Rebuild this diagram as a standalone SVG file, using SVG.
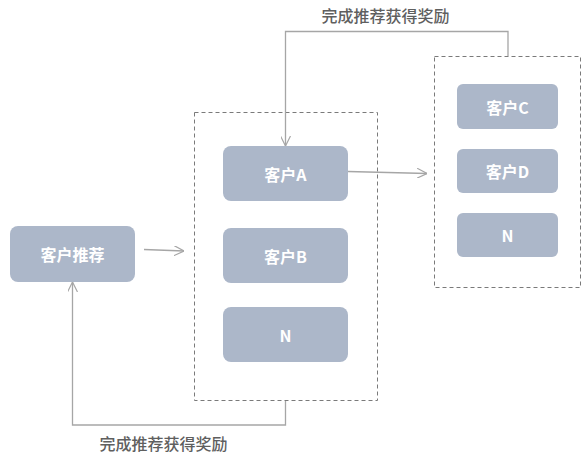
<svg xmlns="http://www.w3.org/2000/svg" width="582" height="463" viewBox="0 0 582 463">
<defs>
<style>
.node{fill:#acb7c9;}
.nt{fill:#ffffff;font-family:"Noto Sans CJK SC","Liberation Sans",sans-serif;font-size:16px;font-weight:bold;text-anchor:middle;dominant-baseline:central;}
.grp{fill:none;stroke:#7a7a7a;stroke-width:1;stroke-dasharray:4 3;}
.conn{fill:none;stroke:#a6a6a6;stroke-width:1.3;}
.lbl{fill:#5f5f5f;font-family:"Noto Sans CJK SC","Liberation Sans",sans-serif;font-size:16px;font-weight:500;text-anchor:middle;dominant-baseline:central;}
</style>
<marker id="arr" viewBox="0 0 10 10" refX="10" refY="5" markerWidth="10" markerHeight="10" markerUnits="userSpaceOnUse" orient="auto">
<path d="M0,0 L10,5 L0,10" fill="none" stroke="#a6a6a6" stroke-width="1.2"/>
</marker>
</defs>
<rect width="582" height="463" fill="#ffffff"/>
<g id="group1"><rect class="grp" x="194.5" y="112.5" width="183" height="288"/></g>
<g id="group2"><rect class="grp" x="434.5" y="56.5" width="146" height="231"/></g>
<g id="connectors">
<polyline class="conn" points="508,56 508,31.5 285.5,31.5 285.5,146" marker-end="url(#arr)"/>
<line class="conn" x1="348" y1="171.5" x2="427" y2="173.5" marker-end="url(#arr)"/>
<line class="conn" x1="144" y1="249.5" x2="184" y2="251" marker-end="url(#arr)"/>
<polyline class="conn" points="285.5,401 285.5,425 72.5,425 72.5,282" marker-end="url(#arr)"/>
<text class="lbl" x="385.5" y="14.5">完成推荐获得奖励</text>
<text class="lbl" x="163.5" y="442.5">完成推荐获得奖励</text>
</g>
<g id="n-referral"><rect class="node" x="10" y="226" width="125" height="56" rx="8"/><text class="nt" x="72.5" y="254">客户推荐</text></g>
<g id="n-a"><rect class="node" x="223" y="146" width="125" height="55" rx="8"/><text class="nt" x="285.5" y="173.5">客户A</text></g>
<g id="n-b"><rect class="node" x="223" y="228" width="125" height="55" rx="8"/><text class="nt" x="285.5" y="255.5">客户B</text></g>
<g id="n-n1"><rect class="node" x="223" y="307" width="125" height="55" rx="8"/><text class="nt" x="285.5" y="334.5">N</text></g>
<g id="n-c"><rect class="node" x="457" y="84" width="101" height="45" rx="6"/><text class="nt" x="507.5" y="106.5">客户C</text></g>
<g id="n-d"><rect class="node" x="457" y="149" width="101" height="44" rx="6"/><text class="nt" x="507.5" y="171">客户D</text></g>
<g id="n-n2"><rect class="node" x="457" y="213" width="101" height="44" rx="6"/><text class="nt" x="507.5" y="235">N</text></g>
</svg>
